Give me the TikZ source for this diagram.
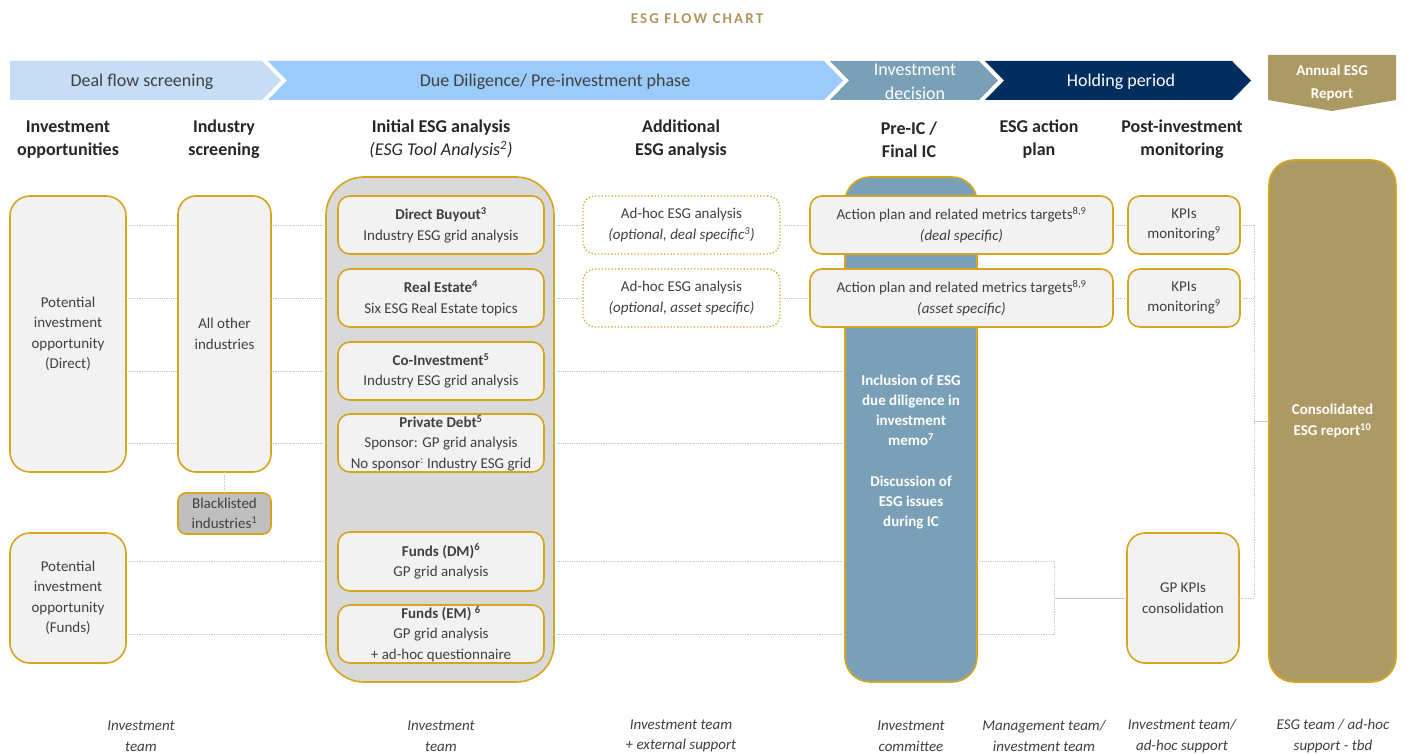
\documentclass[tikz,border=0pt]{standalone}
\usepackage{fontspec}
\setmainfont{Carlito}
\newcommand\fsz[2]{\fontsize{#1}{#2}\selectfont}
\definecolor{gold}{RGB}{214,165,32}
\definecolor{titlec}{RGB}{176,150,94}
\definecolor{brownf}{RGB}{173,153,99}
\definecolor{steel}{RGB}{122,160,184}
\definecolor{navy}{RGB}{0,47,95}
\definecolor{ddblue}{RGB}{155,203,250}
\definecolor{dealc}{RGB}{197,222,245}
\definecolor{boxf}{RGB}{242,242,242}
\definecolor{bigf}{RGB}{217,217,217}
\definecolor{blf}{RGB}{191,191,191}
\definecolor{txt}{RGB}{64,64,64}
\definecolor{hdr}{RGB}{38,38,38}
\definecolor{lgray}{RGB}{200,200,200}
\begin{document}
\begin{tikzpicture}[x=1pt,y=-1pt,
  every node/.style={inner sep=0pt,outer sep=0pt,align=center},
  box/.style={draw=gold,line width=1.6pt,fill=boxf,rounded corners=14pt,text=txt,font=\fsz{15}{20.5}},
  dotbox/.style={draw=gold,line width=1.3pt,dotted,fill=white,rounded corners=12pt,text=txt,font=\fsz{15}{20.5}},
  hdrtxt/.style={text=hdr,font=\fsz{18}{23}\bfseries},
  bottxt/.style={text=txt,font=\fsz{15}{20.5}\itshape},
  conn/.style={draw=lgray,line width=0.8pt,densely dotted},
  connsolid/.style={draw=lgray,line width=0.8pt}
]
\useasboundingbox[fill=white] (0,0) rectangle (1407,754);

% title
\node[text=titlec,font=\fsz{15}{17}] (title) at (697,19) {\bfseries\addfontfeature{LetterSpace=14}ESG FLOW CHART};

% chevrons
\fill[dealc] (10,61) -- (262,61) -- (281,80.5) -- (262,100) -- (10,100) -- cycle;
\fill[ddblue] (268,61) -- (824,61) -- (843,80.5) -- (824,100) -- (268,100) -- (287,80.5) -- cycle;
\fill[steel] (830,61) -- (979,61) -- (998,80.5) -- (979,100) -- (830,100) -- (849,80.5) -- cycle;
\fill[navy] (985,61) -- (1232,61) -- (1251,80.5) -- (1232,100) -- (985,100) -- (1004,80.5) -- cycle;
\fill[brownf] (1268,55) -- (1396,55) -- (1396,100) -- (1332,111) -- (1268,100) -- cycle;
\node[text=txt,font=\fsz{18}{23}] (ph1) at (142,82) {Deal flow screening};
\node[text=txt,font=\fsz{18}{23}] (ph2) at (555,82) {Due Diligence/ Pre-investment phase};
\node[text=white,font=\fsz{18}{24}] (ph3) at (915,82) {Investment\\decision};
\node[text=white,font=\fsz{18}{23}] (ph4) at (1121,82) {Holding period};
\node[text=white,font=\fsz{15}{23}\bfseries] (ph5) at (1332,82.5) {Annual ESG\\Report};

% column headers
\node[hdrtxt] (h1) at (68,139.5) {Investment\\opportunities};
\node[hdrtxt] (h2) at (224,139.5) {Industry\\screening};
\node[hdrtxt] (h3) at (441,139.5) {Initial ESG analysis\\{\mdseries\itshape (ESG Tool Analysis\textsuperscript{2})}};
\node[hdrtxt] (h4) at (681,139.5) {Additional\\ESG analysis};
\node[hdrtxt] (h5) at (909,139.5) {Pre-IC /\\Final IC};
\node[hdrtxt] (h6) at (1039,139.5) {ESG action\\plan};
\node[hdrtxt] (h7) at (1182,139.5) {Post-investment\\monitoring};

% left boxes
\node[box,rounded corners=20pt,minimum width=116pt,minimum height=276pt] (potD) at (68,334) {Potential\\investment\\opportunity\\(Direct)};
\node[box,rounded corners=18pt,minimum width=93pt,minimum height=276pt] (allo) at (224.5,334) {All other\\industries};
\node[box,fill=blf,rounded corners=8pt,minimum width=93pt,minimum height=41pt] (bl) at (224.5,513.5) {Blacklisted\\industries\textsuperscript{1}};
\node[box,rounded corners=20pt,minimum width=116pt,minimum height=130pt] (potF) at (68,598) {Potential\\investment\\opportunity\\(Funds)};

% big gray container
\node[box,fill=bigf,rounded corners=38pt,minimum width=228pt,minimum height=505pt] (big) at (440,429.5) {};
\node[box,rounded corners=12pt,minimum width=206pt,minimum height=58pt] (db) at (441,225) {\textbf{Direct Buyout\textsuperscript{3}}\\Industry ESG grid analysis};
\node[box,rounded corners=12pt,minimum width=206pt,minimum height=58pt] (re) at (441,298) {\textbf{Real Estate\textsuperscript{4}}\\Six ESG Real Estate topics};
\node[box,rounded corners=12pt,minimum width=206pt,minimum height=58pt] (ci) at (441,371) {\textbf{Co-Investment\textsuperscript{5}}\\Industry ESG grid analysis};
\node[box,rounded corners=12pt,minimum width=206pt,minimum height=58pt] (pd) at (441,443) {\textbf{Private Debt\textsuperscript{5}}\\Sponsor: GP grid analysis\\No sponsor\textsuperscript{:} Industry ESG grid};
\node[box,rounded corners=12pt,minimum width=206pt,minimum height=59pt] (fdm) at (441,561.5) {\textbf{Funds (DM)\textsuperscript{6}}\\GP grid analysis};
\node[box,rounded corners=12pt,minimum width=206pt,minimum height=58pt] (fem) at (441,634) {\textbf{Funds (EM) \textsuperscript{6}}\\GP grid analysis\\+ ad-hoc questionnaire};

% additional analysis
\node[dotbox,minimum width=197pt,minimum height=58pt] (ah1) at (681.5,225) {Ad-hoc ESG analysis\\\textit{(optional, deal specific\textsuperscript{3})}};
\node[dotbox,minimum width=197pt,minimum height=58pt] (ah2) at (681.5,298) {Ad-hoc ESG analysis\\\textit{(optional, asset specific)}};

% investment committee box
\node[box,fill=steel,rounded corners=25pt,minimum width=132pt,minimum height=505pt] (blue) at (911,429.5) {};
\node[text=white,font=\fsz{15}{20.2}\bfseries] (bluetxt) at (911,452) {Inclusion of ESG\\due diligence in\\investment\\memo\textsuperscript{7}\\[20.2pt]Discussion of\\ESG issues\\during IC};

% action plans
\node[box,rounded corners=12pt,minimum width=303pt,minimum height=58pt] (ap1) at (961.5,225) {Action plan and related metrics targets\textsuperscript{8,9}\\\textit{(deal specific)}};
\node[box,rounded corners=12pt,minimum width=303pt,minimum height=58pt] (ap2) at (961.5,298) {Action plan and related metrics targets\textsuperscript{8,9}\\\textit{(asset specific)}};

% monitoring
\node[box,rounded corners=12pt,minimum width=112pt,minimum height=58pt] (kpi1) at (1184,225) {KPIs\\monitoring\textsuperscript{9}};
\node[box,rounded corners=12pt,minimum width=112pt,minimum height=58pt] (kpi2) at (1184,298) {KPIs\\monitoring\textsuperscript{9}};
\node[box,rounded corners=18pt,minimum width=112pt,minimum height=130pt] (gpk) at (1183,598) {GP KPIs\\consolidation};

% consolidated report
\node[box,fill=brownf,rounded corners=25pt,minimum width=127pt,minimum height=522pt,text=white,font=\fsz{15}{20.5}\bfseries] (cons) at (1332.5,421) {Consolidated\\ESG report\textsuperscript{10}};

% connectors
\draw[conn] (potD.east|-db.west) -- (allo.west|-db.west);
\draw[conn] (allo.east|-db.west) -- (big.west|-db.west);
\draw[conn] (big.east|-db.west) -- (ah1.west);
\draw[conn] (ah1.east) -- (ap1.west);
\draw[conn] (ap1.east) -- (kpi1.west);
\draw[conn] (potD.east|-re.west) -- (allo.west|-re.west);
\draw[conn] (allo.east|-re.west) -- (big.west|-re.west);
\draw[conn] (big.east|-re.west) -- (ah2.west);
\draw[conn] (ah2.east) -- (ap2.west);
\draw[conn] (ap2.east) -- (kpi2.west);
\draw[conn] (potD.east|-ci.west) -- (allo.west|-ci.west);
\draw[conn] (allo.east|-ci.west) -- (big.west|-ci.west);
\draw[conn] (big.east|-ci.west) -- (blue.west|-ci.west);
\draw[conn] (potD.east|-pd.west) -- (allo.west|-pd.west);
\draw[conn] (allo.east|-pd.west) -- (big.west|-pd.west);
\draw[conn] (big.east|-pd.west) -- (blue.west|-pd.west);
\draw[conn] (allo.south) -- (bl.north);
\draw[conn] (potF.east|-fdm.west) -- (big.west|-fdm.west);
\draw[conn] (big.east|-fdm.west) -- (blue.west|-fdm.west);
\draw[conn] (potF.east|-fem.west) -- (big.west|-fem.west);
\draw[conn] (big.east|-fem.west) -- (blue.west|-fem.west);
\coordinate (fj) at (1054,598);
\draw[conn] (blue.east|-fdm.west) -- (fj|-fdm.west) -- (fj|-fem.west) -- (blue.east|-fem.west);
\draw[connsolid] (fj) -- (gpk.west);
\coordinate (rj) at (1254,421);
\draw[conn] (kpi1.east) -- (rj|-kpi1.east) -- (rj|-gpk.east) -- (gpk.east);
\draw[conn] (kpi2.east) -- (rj|-kpi2.east);
\draw[connsolid] (rj) -- (cons.west);

% bottom labels
\node[bottxt] (b1) at (141,736) {Investment\\team};
\node[bottxt] (b2) at (441,736) {Investment\\team};
\node[bottxt] (b3) at (681,736) {Investment team\\+ external support};
\node[bottxt] (b4) at (911,736) {Investment\\committee};
\node[bottxt] (b5) at (1044,736) {Management team/\\investment team};
\node[bottxt] (b6) at (1182,736) {Investment team/\\ad-hoc support};
\node[bottxt] (b7) at (1333,736) {ESG team / ad-hoc\\support - tbd};
\end{tikzpicture}
\end{document}
